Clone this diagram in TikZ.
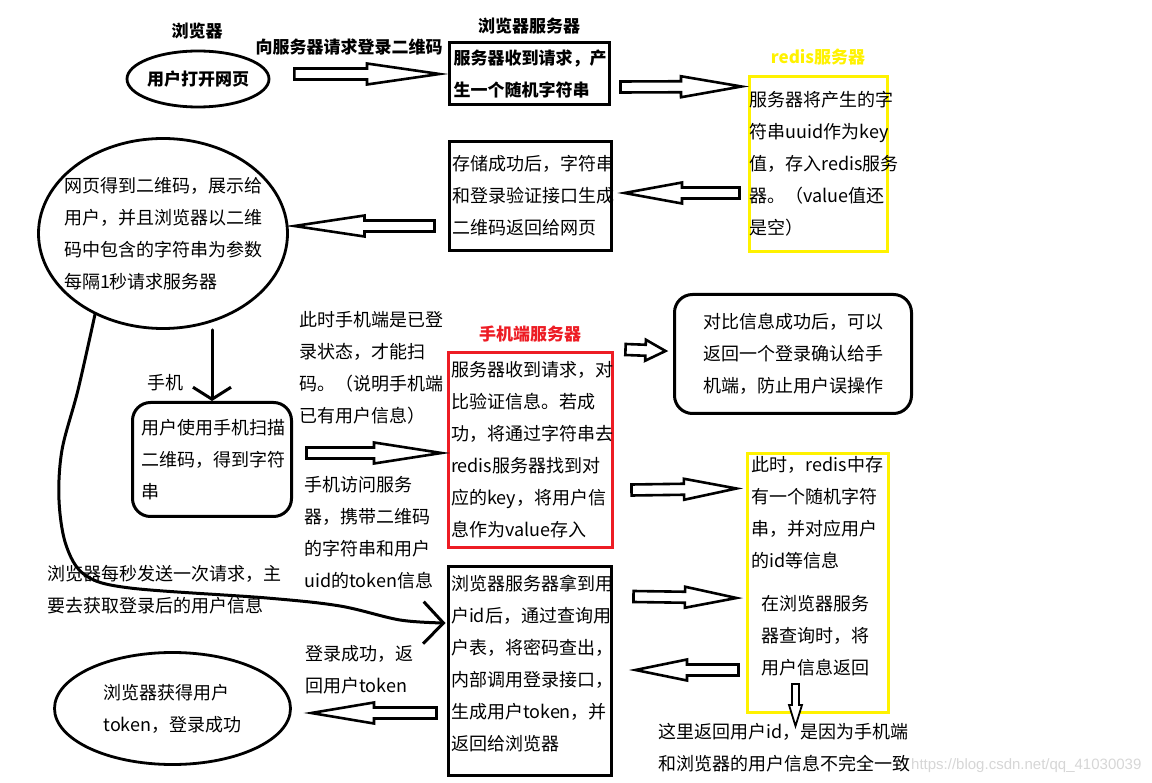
\documentclass[tikz,border=0pt]{standalone}
\usepackage{fontspec}
\setmainfont{Noto Sans CJK SC}
\newfontfamily\markfont{Liberation Sans}
\usepackage{xcolor}
\usepackage{tikz}
\usetikzlibrary{shapes.geometric, arrows.meta, positioning, calc}
\definecolor{PaintRed}{HTML}{ED1C24}
\definecolor{PaintYellow}{HTML}{FFF200}
\definecolor{MarkGrey}{HTML}{D6D6D6}

\newcommand{\arrbody}{5.5pt}
\newcommand{\arrhead}{10.5pt}
\newcommand{\fatarrow}[3][]{%
  \coordinate (fa-s) at #2;
  \coordinate (fa-t) at #3;
  \coordinate (fa-m) at ($(fa-s)!0.5!(fa-t)$);
  \draw[fat, #1] ($(fa-s)!\arrbody!90:(fa-t)$) -- ($(fa-m)!\arrbody!90:(fa-t)$) -- ($(fa-m)!\arrhead!90:(fa-t)$) -- (fa-t)
    -- ($(fa-m)!\arrhead!-90:(fa-t)$) -- ($(fa-m)!\arrbody!-90:(fa-t)$) -- ($(fa-s)!\arrbody!-90:(fa-t)$) -- cycle;
}

\begin{document}
\begin{tikzpicture}[x=1pt, y=-1pt, every node/.style={inner sep=0pt}]
    \tikzstyle{note} = [font=\fontsize{18}{32}\selectfont, align=left]
    \tikzstyle{heading} = [font=\bfseries\fontsize{17}{32}\selectfont]
    \tikzstyle{block} = [rectangle, draw, line width=3pt, note, inner xsep=3pt]
    \tikzstyle{roundblock} = [block, rounded corners=18pt]
    \tikzstyle{bubble} = [ellipse, draw, line width=2.8pt, note]
    \tikzstyle{hand} = [line width=3pt, line cap=round]
    \tikzstyle{fat} = [draw, line width=2.6pt, fill=white, line join=miter]

    \useasboundingbox (0,0) rectangle (1152,783);

    \node [heading] (browser) at (197,31) {浏览器};
    \node [bubble, heading, inner xsep=-2pt, minimum width=142pt, minimum height=56pt] (open) at (198,79) {用户打开网页};
    \node [heading] (reqlabel) at (349,47) {向服务器请求登录二维码};
    \node [heading] (srvlabel) at (529,26) {浏览器服务器};
    \node [block, heading, inner xsep=4pt, text width=152pt, minimum width=160pt, minimum height=62pt] (srv) at (529.5,73.5) {服务器收到请求，产\\生一个随机字符串};

    \node [heading, text=PaintYellow] (redislabel) at (818,57) {redis服务器};
    \node [block, draw=PaintYellow, inner xsep=0pt, text width=138pt, minimum width=138pt, minimum height=175pt] (redis) at (818.5,164) {服务器将产生的字\\符串uuid作为key\\值，存入redis服务\\器。（value值还\\是空）};

    \node [block, text width=156pt, minimum width=162pt, minimum height=109pt] (store) at (530.5,196) {存储成功后，字符串\\和登录验证接口生成\\二维码返回给网页};
    \node [bubble, inner xsep=-12pt, minimum width=249pt, minimum height=190pt] (web) at (163,233.5) {网页得到二维码，展示给\\用户，并且浏览器以二维\\码中包含的字符串为参数\\每隔1秒请求服务器};

    \node [note] (phonelabel) at (165,383) {手机};
    \node [roundblock, inner xsep=8.5pt, text width=142pt, minimum width=159pt, minimum height=114pt] (phone) at (212,459.5) {用户使用手机扫描\\二维码，得到字符\\串};
    \node [note, anchor=north west] (loggedin) at (299,311) {此时手机端是已登\\录状态，才能扫\\码。（说明手机端\\已有用户信息）};
    \node [note, anchor=north west] (scan) at (304,476) {手机访问服务\\器，携带二维码\\的字符串和用户\\uid的token信息};

    \node [heading, text=PaintRed] (redlabel) at (530,334) {手机端服务器};
    \node [block, draw=PaintRed, inner xsep=2.5pt, text width=159pt, minimum width=164pt, minimum height=195pt] (red) at (530.5,450) {服务器收到请求，对\\比验证信息。若成\\功，将通过字符串去\\redis服务器找到对\\应的key，将用户信\\息作为value存入};
    \node [roundblock, minimum width=237pt, minimum height=119pt] (confirm) at (793,354) {对比信息成功后，可以\\返回一个登录确认给手\\机端，防止用户误操作};

    \node [block, draw=PaintYellow, minimum width=141pt, minimum height=259pt] (ylow) at (818,583) {};
    \node [note, anchor=north west] (redisnow) at ($(ylow.north west)+(5.5,4)$) {此时，redis中存\\有一个随机字符\\串，并对应用户\\的id等信息};
    \node [note, anchor=north west] (lookup) at ($(ylow.north west)+(15.5,143)$) {在浏览器服务\\器查询时，将\\用户信息返回};

    \node [note, anchor=north west] (polltext) at (47,565) {浏览器每秒发送一次请求，主\\要去获取登录后的用户信息};
    \node [block, inner xsep=2.5pt, text width=158pt, minimum width=163pt, minimum height=209pt] (login) at (530,671) {浏览器服务器拿到用\\户id后，通过查询用\\户表，将密码查出，\\内部调用登录接口，\\生成用户token，并\\返回给浏览器\\[-16pt]\mbox{}};
    \node [note, anchor=north west] (tokentext) at (305,645) {登录成功，返\\回用户token};
    \node [bubble, minimum width=236pt, minimum height=112pt] (done) at (172.5,708.5) {浏览器获得用户\\token，登录成功};
    \node [note, anchor=north west] (why) at (658,723) {这里返回用户id，是因为手机端\\和浏览器的用户信息不完全一致};
    \node [font=\markfont\fontsize{15}{18}\selectfont, text=MarkGrey, anchor=west] (mark) at (911,766) {https://blog.csdn.net/qq\_41030039};

    \fatarrow{($(open.east)+(24,-5)$)}{($(srv.west)+(-8.5,0.5)$)}
    \fatarrow{($(srv.east)+(9.5,13.5)$)}{($(redis.north west)+(-6.5,11.5)$)}
    \fatarrow{($(redis.west)+(-8.5,29)$)}{($(store.east)+(11.5,-3)$)}
    \fatarrow{($(store.west)+(-13.5,30)$)}{($(web.east)+(5.5,-7.5)$)}
    \draw [hand, -{Straight Barb[length=12pt, width=38pt]}] (web.south -| phone.north) -- (phone.north);
    \fatarrow{($(phone.east)+(13.5,-6.5)$)}{($(red.west)+(-5.5,3)$)}
    \fatarrow{($(red.north east)+(11.5,-1.5)$)}{($(confirm.west)+(-7.5,-3)$)}
    \fatarrow{($(red.east)+(17.5,40)$)}{($(ylow.north west)+(-9.5,36.5)$)}
    \fatarrow{($(login.north east)+(20.5,31.5)$)}{($(ylow.west)+(-9.5,15)$)}
    \fatarrow{($(ylow.west)+(-7.5,87)$)}{($(login.east)+(22.5,-1)$)}
    \fatarrow{($(login.west)+(-10.5,42)$)}{($(done.east)+(19.5,4.5)$)}
    {\renewcommand{\arrbody}{3.5pt}\renewcommand{\arrhead}{6.5pt}
    \fatarrow[line width=1.8pt]{($(ylow.south)+(-22.5,-30)$)}{($(ylow.south)+(-22.5,12)$)}}

    \coordinate (pollend) at ($(login.west)+(-1.5,-48)$);
    \draw [hand, -{Straight Barb[length=20pt, width=42pt]}] plot [smooth, tension=0.55] coordinates {(web.230) (78,390) (62,450) (59,500) (66,545) (85,575) (130,588) (267,598) (340,606) (400,620) (pollend)};
\end{tikzpicture}
\end{document}
